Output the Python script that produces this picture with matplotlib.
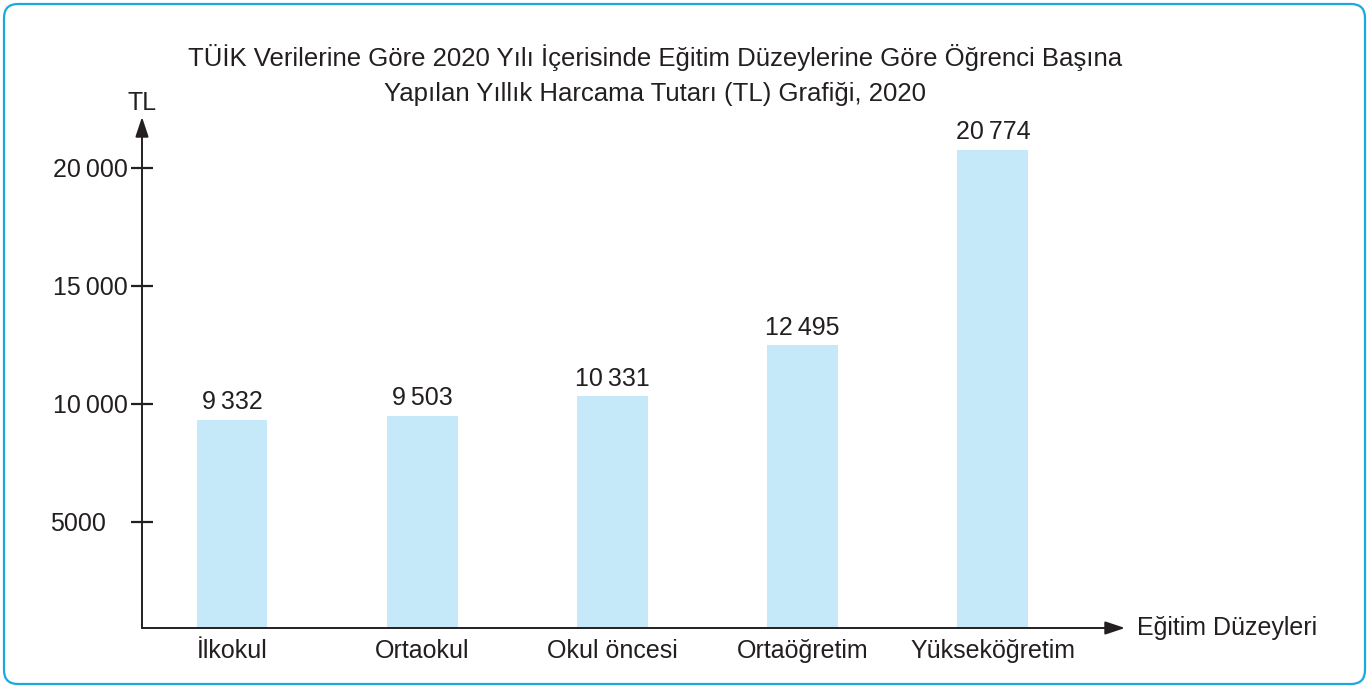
import matplotlib.pyplot as plt
import matplotlib.transforms as mtransforms
from matplotlib.patches import FancyBboxPatch

plt.rcParams['font.family'] = ['Liberation Sans', 'DejaVu Sans']

# Öğrenci başına yıllık harcama (TL), TÜİK 2020
duzeyler = ['İlkokul', 'Ortaokul', 'Okul öncesi', 'Ortaöğretim', 'Yükseköğretim']
harcama = [9332, 9503, 10331, 12495, 20774]
y_ticks = [5000, 10000, 15000, 20000]
y_tick_labels = ['5000', '10\u2009000', '15\u2009000', '20\u2009000']

koyu = '#231f20'
bar_rengi = '#c6e9f9'
cerceve = '#1aa8e0'

fig = plt.figure(figsize=(13.69, 6.88), dpi=100)
ax = fig.add_axes([142 / 1369, 60 / 688, (1125 - 142) / 1369, (628 - 117) / 688])

x = list(range(len(duzeyler)))
ax.bar(x, harcama, width=0.373, color=bar_rengi, zorder=1)

for xi, v in zip(x, harcama):
    ax.annotate(f'{v:,}'.replace(',', '\u2009'), (xi, v), xytext=(0, 4),
                textcoords='offset points', ha='center', va='bottom',
                fontsize=18, color=koyu)

ax.set_xlim(-0.473, 4.694)
ax.set_ylim(508, 22160)

for s in ax.spines.values():
    s.set_visible(False)

# eksenler oklu çizgiler olarak
ok = dict(arrowstyle='-|>,head_length=0.75,head_width=0.25', mutation_scale=16,
          lw=1.4, color=koyu, shrinkA=0, shrinkB=0)
ax.annotate('', xy=(0, 1), xytext=(0, 0), xycoords='axes fraction', arrowprops=ok)
ax.annotate('', xy=(1, 0), xytext=(0, 0), xycoords='axes fraction', arrowprops=ok)

ax.set_yticks(y_ticks)
ax.set_yticklabels(y_tick_labels, fontsize=18, color=koyu)
ax.tick_params(axis='y', direction='inout', length=16, width=1.6, color=koyu, pad=2)
# 5000 etiketi biraz solda
lab5000 = ax.get_yticklabels()[0]
lab5000.set_transform(lab5000.get_transform() +
                      mtransforms.ScaledTranslation(-22 / 100, 0, fig.dpi_scale_trans))

ax.set_xticks(x)
ax.set_xticklabels(duzeyler, fontsize=18, color=koyu)
ax.tick_params(axis='x', length=0, pad=8)

ax.text(0, 1.014, 'TL', transform=ax.transAxes, ha='center', va='baseline',
        fontsize=18, color=koyu)
ax.text(1.012, 0, 'Eğitim Düzeyleri', transform=ax.transAxes, ha='left',
        va='center', fontsize=18, color=koyu)

fig.text(655 / 1369, 1 - 75 / 688,
         'TÜİK Verilerine Göre 2020 Yılı İçerisinde Eğitim Düzeylerine Göre Öğrenci Başına\n'
         'Yapılan Yıllık Harcama Tutarı (TL) Grafiği, 2020',
         ha='center', va='center', fontsize=18.5, color=koyu, linespacing=1.6)

fig.patches.append(FancyBboxPatch((4, 4), 1361, 680,
                                  boxstyle='round,pad=0,rounding_size=14',
                                  transform=mtransforms.IdentityTransform(),
                                  fill=False, edgecolor=cerceve, lw=1.6))

fig.savefig('out.png', dpi=100)
